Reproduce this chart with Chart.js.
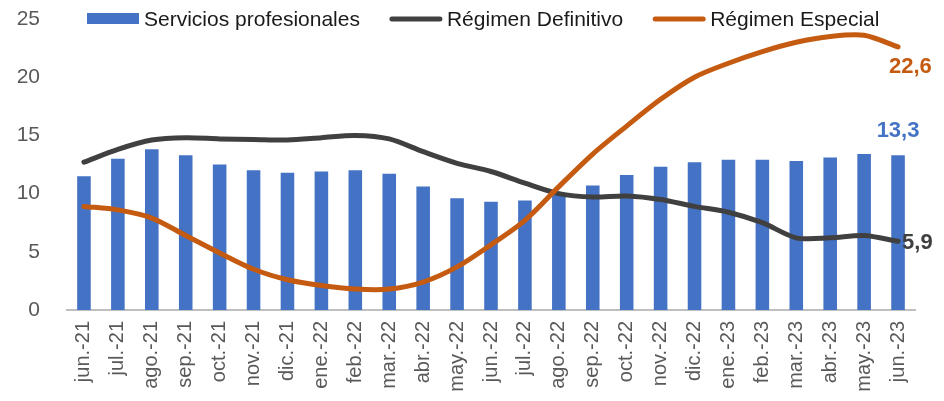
<!DOCTYPE html>
<html>
<head>
<meta charset="utf-8">
<script src="https://cdn.jsdelivr.net/npm/chart.js@4/dist/chart.umd.min.js"></script>
<style>
html,body{margin:0;padding:0;background:#fff;}
#wrap{width:944px;height:401px;position:relative;}
</style>
</head>
<body>
<div id="wrap"><canvas id="c"></canvas></div>
<script>
const categories = ["jun.-21","jul.-21","ago.-21","sep.-21","oct.-21","nov.-21","dic.-21","ene.-22","feb.-22","mar.-22","abr.-22","may.-22","jun.-22","jul.-22","ago.-22","sep.-22","oct.-22","nov.-22","dic.-22","ene.-23","feb.-23","mar.-23","abr.-23","may.-23","jun.-23"];
const serviciosProfesionales = [11.5,13.0,13.8,13.3,12.5,12.0,11.8,11.9,12.0,11.7,10.6,9.6,9.3,9.4,10.0,10.7,11.6,12.3,12.7,12.9,12.9,12.8,13.1,13.4,13.3];
const regimenDefinitivo = [12.7,13.8,14.6,14.8,14.7,14.65,14.6,14.8,15.0,14.7,13.6,12.6,11.9,10.9,10.0,9.7,9.8,9.5,8.9,8.4,7.5,6.2,6.2,6.4,5.9];
const regimenEspecial = [8.9,8.6,7.9,6.4,4.9,3.5,2.6,2.1,1.8,1.8,2.4,3.7,5.6,7.7,10.6,13.4,15.8,18.1,20.0,21.2,22.2,23.0,23.5,23.6,22.6];
const yTicks = [0,5,10,15,20,25];
const seriesNames = ["Servicios profesionales","Régimen Definitivo","Régimen Especial"];
const lastLabels = ["13,3","5,9","22,6"];

const BLUE = "#4472C4", DARK = "#404040", ORANGE = "#C55A11";
const FONT = "'Liberation Sans', Arial, sans-serif";

const legendPlugin = {
  id: "customLegend",
  afterDraw(chart) {
    const ctx = chart.ctx;
    ctx.save();
    ctx.font = "21px " + FONT;
    ctx.textBaseline = "middle";
    let x = 87;
    const y = 19;
    chart.data.datasets.forEach((ds, i) => {
      if (ds.type === "bar") {
        ctx.fillStyle = ds.backgroundColor;
        ctx.fillRect(x, y - 6, 52, 11);
      } else {
        ctx.strokeStyle = ds.borderColor;
        ctx.lineWidth = 5;
        ctx.lineCap = "round";
        ctx.beginPath();
        ctx.moveTo(x + 2, y);
        ctx.lineTo(x + 50, y);
        ctx.stroke();
      }
      ctx.fillStyle = "#1a1a1a";
      ctx.textAlign = "left";
      ctx.fillText(ds.label, x + 57, y + 1);
      x += 57 + ctx.measureText(ds.label).width + 30;
    });
    ctx.restore();
  }
};

const endLabelPlugin = {
  id: "endLabels",
  afterDatasetsDraw(chart) {
    const ctx = chart.ctx;
    ctx.save();
    ctx.font = "bold 22px " + FONT;
    ctx.textBaseline = "middle";
    chart.data.datasets.forEach((ds, i) => {
      const meta = chart.getDatasetMeta(i);
      const el = meta.data[meta.data.length - 1];
      const txt = lastLabels[i];
      if (i === 0) {
        ctx.fillStyle = BLUE; ctx.textAlign = "center";
        ctx.fillText(txt, el.x, el.y - 24);
      } else if (i === 1) {
        ctx.fillStyle = DARK; ctx.textAlign = "left";
        ctx.fillText(txt, el.x + 4, el.y + 2);
      } else {
        ctx.fillStyle = ORANGE; ctx.textAlign = "left";
        ctx.fillText(txt, el.x - 9, el.y + 20);
      }
    });
    ctx.restore();
  }
};

new Chart(document.getElementById("c"), {
  data: {
    labels: categories,
    datasets: [
      { type: "bar", label: seriesNames[0], data: serviciosProfesionales, backgroundColor: BLUE, barPercentage: 0.4, categoryPercentage: 1.0, order: 2 },
      { type: "line", label: seriesNames[1], data: regimenDefinitivo, borderColor: DARK, backgroundColor: DARK, borderWidth: 5, pointRadius: 0, tension: 0.3, borderCapStyle: "round", order: 1 },
      { type: "line", label: seriesNames[2], data: regimenEspecial, borderColor: ORANGE, backgroundColor: ORANGE, borderWidth: 5, pointRadius: 0, tension: 0.3, borderCapStyle: "round", order: 0 }
    ]
  },
  options: {
    responsive: true,
    maintainAspectRatio: false,
    animation: false,
    layout: { padding: { left: 0, right: 29, top: 19, bottom: 0 } },
    plugins: { legend: { display: false }, tooltip: { enabled: false } },
    scales: {
      x: {
        grid: { display: false, drawTicks: false },
        border: { display: true, color: "#BFBFBF", width: 2 },
        ticks: { color: "#595959", font: { size: 20, family: FONT }, maxRotation: 90, minRotation: 90, padding: 11, autoSkip: false },
        afterFit(s) { s.height = 91; s.paddingLeft = 0; s.paddingRight = 0; }
      },
      y: {
        min: 0, max: 25,
        grid: { display: false, drawTicks: false },
        border: { display: false },
        afterBuildTicks(s) { s.ticks = yTicks.map(v => ({ value: v })); },
        ticks: { color: "#595959", font: { size: 21, family: FONT }, padding: 27 },
        afterFit(s) { s.width = 67; s.paddingTop = 0; s.paddingBottom = 0; }
      }
    }
  },
  plugins: [legendPlugin, endLabelPlugin]
});
</script>
</body>
</html>
